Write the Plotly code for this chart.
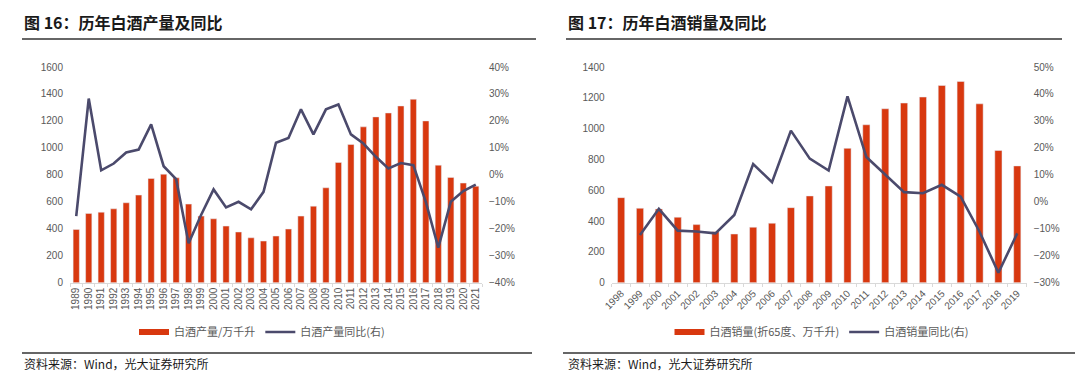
import plotly.graph_objects as go

# ---- data: Figure 16 (production) ----
years_prod = [str(y) for y in range(1989, 2022)]
prod = [395, 514, 523, 548, 593, 650, 773, 805, 778, 583, 494, 474, 420, 376, 333, 309,
        346, 398, 494, 568, 704, 892, 1025, 1156, 1230, 1259, 1311, 1361, 1200, 872, 781, 739, 716]
prod_yoy = [-15.3, 28.3, 1.7, 4.2, 8.3, 9.4, 18.7, 3.2, -1.6, -25.4, -14.9, -5.4, -12.1, -10.0,
            -12.8, -6.3, 11.9, 13.7, 24.3, 15.0, 24.3, 26.1, 15.0, 11.6, 6.7, 2.4, 4.4, 3.6,
            -10.0, -27.0, -10.0, -6.0, -3.6]

# ---- data: Figure 17 (sales) ----
years_sales = [str(y) for y in range(1998, 2020)]
sales = [552, 483, 479, 425, 377, 331, 316, 360, 386, 487, 563, 628, 872, 1025, 1129, 1166,
         1205, 1280, 1306, 1161, 858, 758]
sales_yoy = [None, -12.3, -2.6, -10.7, -11.0, -11.7, -4.9, 14.0, 7.3, 26.4, 16.0, 11.6, 39.1,
             16.6, 10.0, 3.6, 3.2, 6.3, 1.9, -11.1, -26.3, -11.7]

RED = "#D8380F"
LINE = "#4B4A6C"
GRAY = "#595959"
FONT = "Noto Sans CJK SC"
W, H = 1080, 388

def px_x(v):
    return v / W

def px_y(v):
    return 1 - v / H

fig = go.Figure()

# left panel
fig.add_trace(go.Bar(x=years_prod, y=prod, name="白酒产量/万千升", marker_color=RED,
                     width=0.5, xaxis="x", yaxis="y", showlegend=False))
fig.add_trace(go.Scatter(x=[None], y=[None], name="白酒产量/万千升", mode="lines",
                         line=dict(color=RED, width=6), xaxis="x", yaxis="y",
                         legend="legend"))
fig.add_trace(go.Scatter(x=years_prod, y=[v / 100 for v in prod_yoy], name="白酒产量同比(右)",
                         mode="lines", line=dict(color=LINE, width=2.6),
                         xaxis="x", yaxis="y2", legend="legend"))
# right panel
fig.add_trace(go.Bar(x=years_sales, y=sales, name="白酒销量(折65度、万千升)", marker_color=RED,
                     width=0.38, xaxis="x2", yaxis="y3", showlegend=False))
fig.add_trace(go.Scatter(x=[None], y=[None], name="白酒销量(折65度、万千升)", mode="lines",
                         line=dict(color=RED, width=6), xaxis="x2", yaxis="y3",
                         legend="legend2"))
fig.add_trace(go.Scatter(x=years_sales, y=[None if v is None else v / 100 for v in sales_yoy],
                         name="白酒销量同比(右)", mode="lines",
                         line=dict(color=LINE, width=2.6),
                         xaxis="x2", yaxis="y4", legend="legend2"))

ydom = [px_y(282.7), px_y(67)]
tickfont = dict(family="Liberation Sans, Arial", size=10, color=GRAY)

xcommon = dict(type="category", showgrid=False, showline=True, linecolor="#D9D9D9",
               linewidth=1, ticks="outside", ticklen=3, tickcolor="#D9D9D9",
               tickson="boundaries", tickfont=tickfont, fixedrange=True)

fig.update_layout(
    width=W, height=H,
    margin=dict(l=0, r=0, t=0, b=0, autoexpand=False),
    paper_bgcolor="white", plot_bgcolor="white",
    font=dict(family=FONT, color=GRAY),
    barmode="overlay",
    xaxis=dict(domain=[px_x(70), px_x(482)], anchor="y", tickangle=-90, **xcommon),
    yaxis=dict(domain=ydom, range=[0, 1600], dtick=200, showgrid=False, zeroline=False,
               tickfont=tickfont, ticklabelstandoff=6, anchor="x"),
    yaxis2=dict(domain=ydom, range=[-0.4, 0.4], dtick=0.1, tickformat=".0%", overlaying="y",
                side="right", showgrid=False, zeroline=False, tickfont=tickfont,
                ticklabelstandoff=6, anchor="x"),
    xaxis2=dict(domain=[px_x(611.7), px_x(1026.7)], anchor="y3", tickangle=-45, **xcommon),
    yaxis3=dict(domain=ydom, range=[0, 1400], dtick=200, showgrid=False, zeroline=False,
                tickfont=tickfont, ticklabelstandoff=6, anchor="x2"),
    yaxis4=dict(domain=ydom, range=[-0.3, 0.5], dtick=0.1, tickformat=".0%", overlaying="y3",
                side="right", showgrid=False, zeroline=False, tickfont=tickfont,
                ticklabelstandoff=6, anchor="x2"),
    legend=dict(orientation="h", x=px_x(262), xanchor="center", y=px_y(332), yanchor="middle",
                font=dict(family=FONT, size=11, color=GRAY), itemwidth=30,
                bgcolor="rgba(0,0,0,0)"),
    legend2=dict(orientation="h", x=px_x(822), xanchor="center", y=px_y(332), yanchor="middle",
                 font=dict(family=FONT, size=11, color=GRAY), itemwidth=30,
                 bgcolor="rgba(0,0,0,0)"),
    showlegend=True,
)

# titles
fig.add_annotation(text="<b>图 16：历年白酒产量及同比</b>", x=px_x(22), y=px_y(22),
                   xref="paper", yref="paper", xanchor="left", yanchor="middle",
                   showarrow=False, font=dict(family=FONT, size=16, color="#1a1a1a"))
fig.add_annotation(text="<b>图 17：历年白酒销量及同比</b>", x=px_x(566), y=px_y(22),
                   xref="paper", yref="paper", xanchor="left", yanchor="middle",
                   showarrow=False, font=dict(family=FONT, size=16, color="#1a1a1a"))
# sources
fig.add_annotation(text="资料来源：Wind，光大证券研究所", x=px_x(22), y=px_y(363),
                   xref="paper", yref="paper", xanchor="left", yanchor="middle",
                   showarrow=False, font=dict(family=FONT, size=12, color="#1a1a1a"))
fig.add_annotation(text="资料来源：Wind，光大证券研究所", x=px_x(566), y=px_y(363),
                   xref="paper", yref="paper", xanchor="left", yanchor="middle",
                   showarrow=False, font=dict(family=FONT, size=12, color="#1a1a1a"))

# rules
for x0, x1, yy in [(22, 536, 39), (566, 1062, 39), (22, 532, 353), (563, 1075, 353)]:
    fig.add_shape(type="line", xref="paper", yref="paper", x0=px_x(x0), x1=px_x(x1),
                  y0=px_y(yy), y1=px_y(yy), line=dict(color="#333333", width=1.3))

fig.write_html("out.html", config={"displayModeBar": False},
               post_script="document.body.style.margin='0';document.body.style.overflow='hidden';")
